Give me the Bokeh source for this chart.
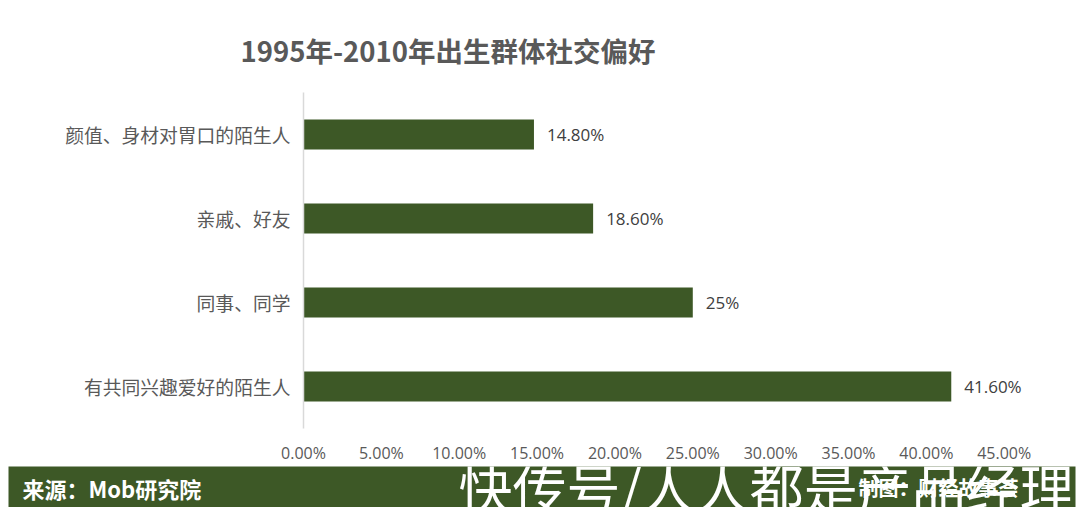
from bokeh.plotting import figure
from bokeh.models import ColumnDataSource, Label, FactorRange, FixedTicker, PrintfTickFormatter, Range1d, Title
from bokeh.layouts import column
from bokeh.embed import file_html
from bokeh.resources import INLINE
from bokeh.core.properties import value

# ---- data ----
categories = ["颜值、身材对胃口的陌生人", "亲戚、好友", "同事、同学", "有共同兴趣爱好的陌生人"]
shares = [14.8, 18.6, 25.0, 41.6]
share_labels = ["14.80%", "18.60%", "25%", "41.60%"]
x_ticks = [0, 5, 10, 15, 20, 25, 30, 35, 40, 45]
title_text = "1995年-2010年出生群体社交偏好"
source_text = "来源：Mob研究院"
credit_text = "制图：财经故事荟"
watermark_text = "快传号/人人都是产品经理"

GREEN = "#3D5826"
GREY = "#595959"
CJK = "Noto Sans CJK SC"

src = ColumnDataSource(dict(cat=categories, val=shares, lab=share_labels))

W = 1080
p = figure(width=W, height=466, output_backend="svg", toolbar_location=None,
           y_range=FactorRange(factors=list(reversed(categories))),
           x_range=Range1d(0, 49),
           min_border_left=303, min_border_right=14, min_border_top=92, min_border_bottom=33)
p.outline_line_color = None
p.xgrid.grid_line_color = None
p.ygrid.grid_line_color = None
p.background_fill_color = "white"
p.border_fill_color = "white"

p.hbar(y="cat", right="val", left=0, height=0.355, source=src, fill_color=GREEN, line_color=None)
p.text(x="val", y="cat", text="lab", source=src, x_offset=13, text_baseline="middle",
       text_align="left", text_font=value("Open Sans"), text_font_size="17px", text_color="#404040")

# x axis
xa = p.xaxis[0]
xa.ticker = FixedTicker(ticks=x_ticks)
xa.formatter = PrintfTickFormatter(format="%.2f%%")
xa.axis_line_color = None
xa.major_tick_line_color = None
xa.minor_tick_line_color = None
xa.major_tick_out = 0
xa.major_tick_in = 0
xa.minor_tick_out = 0
xa.major_label_standoff = 13
xa.major_label_text_font = "Open Sans"
xa.major_label_text_font_size = "16px"
xa.major_label_text_color = GREY

# y axis
ya = p.yaxis[0]
ya.axis_line_color = "#D9D9D9"
ya.axis_line_width = 1.5
ya.major_tick_line_color = None
ya.minor_tick_line_color = None
ya.major_tick_out = 0
ya.major_tick_in = 0
ya.minor_tick_out = 0
ya.major_label_standoff = 13
ya.major_label_text_font = CJK
ya.major_label_text_font_size = "18.8px"
ya.major_label_text_color = GREY

t = Title(text=title_text, align="left", offset=-63, vertical_align="middle", standoff=43,
          text_font=CJK, text_font_size="27.5px", text_font_style="bold", text_color=GREY)
p.add_layout(t, "above")

# footer band
FW = 1067
FH = 41
f = figure(width=W, height=FH, output_backend="svg", toolbar_location=None,
           x_range=Range1d(0, FW), y_range=Range1d(0, FH),
           min_border_left=8, min_border_right=W - 8 - FW, min_border_top=0, min_border_bottom=0)
f.axis.visible = False
f.grid.visible = False
f.outline_line_color = None
f.background_fill_color = GREEN
f.border_fill_color = "white"

f.add_layout(Label(x=14, y=20, text=source_text,
                   text_align="left", text_baseline="middle", text_font=CJK,
                   text_font_size="22px", text_font_style="bold", text_color="white"))
f.add_layout(Label(x=850, y=20, text=credit_text,
                   text_align="left", text_baseline="middle", text_font=CJK,
                   text_font_size="20px", text_font_style="bold", text_color="white"))
f.add_layout(Label(x=450, y=21, text=watermark_text,
                   text_align="left", text_baseline="middle", text_font=CJK,
                   text_font_size="54px", text_color="white"))

layout = column(p, column(f), spacing=0)
open("out.html", "w").write(file_html(layout, INLINE))
